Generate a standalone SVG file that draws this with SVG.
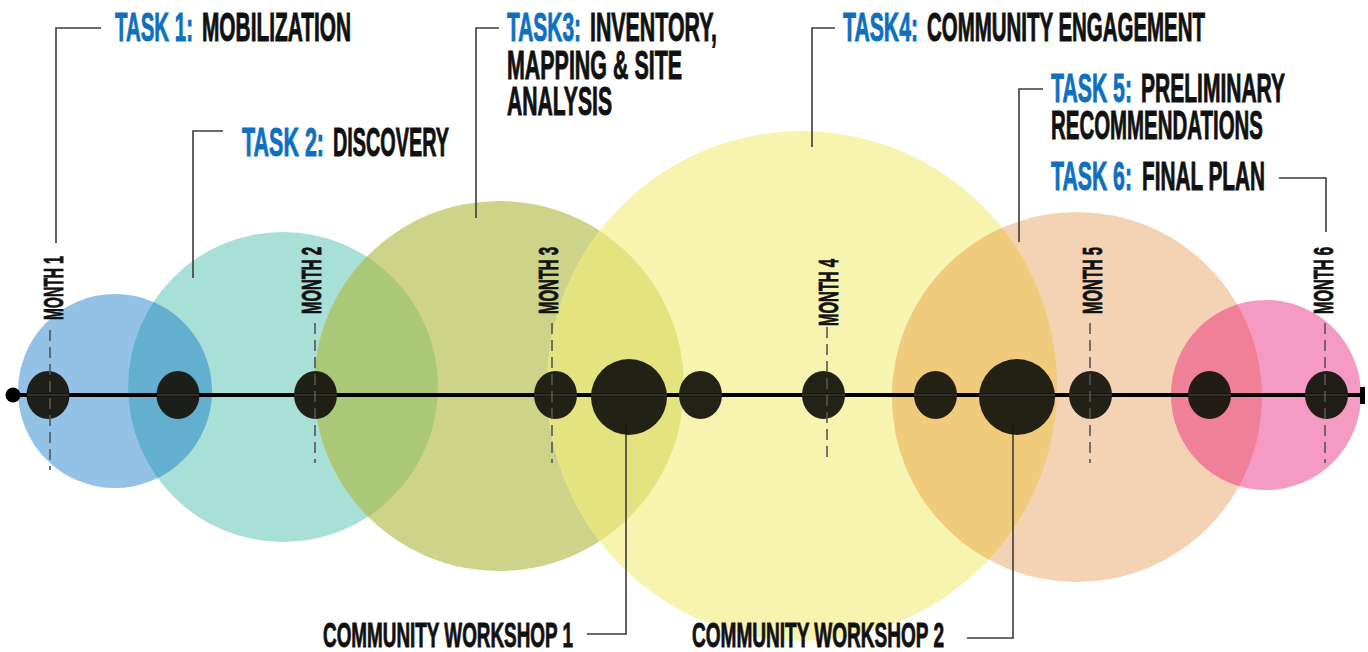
<svg xmlns="http://www.w3.org/2000/svg" width="1368" height="652" viewBox="0 0 1368 652">
  <style>
    .lbl { font-family: "Liberation Sans Narrow", "Liberation Sans", "DejaVu Sans Condensed", sans-serif; font-weight: bold; }
    .task { font-size: 41px; fill: #111; stroke: #111; stroke-width: 1; }
    .task.num { fill: #0f70c0; stroke: #0f70c0; }
    .month { font-size: 28px; fill: #111; stroke: #111; stroke-width: 0.8; }
    .ws { font-size: 35px; fill: #111; stroke: #111; stroke-width: 0.9; }
    .leader { fill: none; stroke: #3c3c3c; stroke-width: 1.6; }
    .tick { fill: none; stroke: #555; stroke-width: 1.6; stroke-dasharray: 11 6; }
    .dot { fill: #17160f; fill-opacity: 0.95; }
  </style>
  <defs>
    <clipPath id="clip-blue"><circle cx="115" cy="391" r="97"/></clipPath>
    <clipPath id="clip-teal"><circle cx="283" cy="387" r="155"/></clipPath>
    <clipPath id="clip-olive"><circle cx="499" cy="386" r="185"/></clipPath>
    <clipPath id="clip-yellow"><circle cx="802" cy="386" r="255"/></clipPath>
    <clipPath id="clip-peach"><circle cx="1077" cy="397" r="185"/></clipPath>
  </defs>

  <rect width="1368" height="652" fill="#ffffff"/>

  <!-- phase circles -->
  <g id="phase-circles">
    <circle id="circle-task1" cx="115" cy="391" r="97" fill="#93c2e6"/>
    <circle id="circle-task2" cx="283" cy="387" r="155" fill="#a8dfd6"/>
    <circle id="circle-task3" cx="499" cy="386" r="185" fill="#cdd48a"/>
    <circle id="circle-task4" cx="802" cy="386" r="255" fill="#f7f4b0"/>
    <circle id="circle-task5" cx="1077" cy="397" r="185" fill="#f4d3b4"/>
    <circle id="circle-task6" cx="1266" cy="395" r="95" fill="#f59ac2"/>
  </g>

  <!-- overlapping lenses between neighbouring phases -->
  <g id="phase-overlaps">
    <circle cx="283" cy="387" r="155" fill="#62afd0" clip-path="url(#clip-blue)"/>
    <circle cx="499" cy="386" r="185" fill="#aac877" clip-path="url(#clip-teal)"/>
    <circle cx="802" cy="386" r="255" fill="#e3e380" clip-path="url(#clip-olive)"/>
    <circle cx="1077" cy="397" r="185" fill="#efcb7b" clip-path="url(#clip-yellow)"/>
    <circle cx="1266" cy="395" r="95" fill="#f07f98" clip-path="url(#clip-peach)"/>
  </g>

  <!-- timeline and leader lines -->
  <g id="connectors">
    <line x1="13" y1="395" x2="1362" y2="395" stroke="#000" stroke-width="4"/>
    <circle cx="13" cy="395" r="7.5" fill="#000"/>
    <rect x="1360" y="387" width="5" height="17" fill="#000"/>

    <path class="leader" d="M101,28 H56 V243"/>
    <path class="leader" d="M223,131 H193 V278"/>
    <path class="leader" d="M499,28 H476 V218"/>
    <path class="leader" d="M835,28 H812 V147"/>
    <path class="leader" d="M1043,89 H1019 V242"/>
    <path class="leader" d="M1279,178 H1326 V232"/>
    <path class="leader" d="M587,634 H626 V424"/>
    <path class="leader" d="M967,638 H1013 V424"/>
  </g>

  <!-- milestone dots -->
  <g id="milestones">
    <ellipse class="dot" cx="48" cy="395" rx="21.5" ry="24"/>
    <ellipse class="dot" cx="178" cy="395" rx="21.5" ry="24"/>
    <ellipse class="dot" cx="315.5" cy="395" rx="21.5" ry="24"/>
    <ellipse class="dot" cx="555.5" cy="395" rx="21.5" ry="24"/>
    <circle class="dot" cx="629" cy="397" r="38"/>
    <ellipse class="dot" cx="700.5" cy="395" rx="21.5" ry="24"/>
    <ellipse class="dot" cx="823.5" cy="395" rx="21.5" ry="24"/>
    <ellipse class="dot" cx="935.5" cy="395" rx="21.5" ry="24"/>
    <circle class="dot" cx="1017" cy="397" r="38"/>
    <ellipse class="dot" cx="1090.5" cy="395" rx="21.5" ry="24"/>
    <ellipse class="dot" cx="1209.5" cy="395" rx="21.5" ry="24"/>
    <ellipse class="dot" cx="1326.5" cy="395" rx="21.5" ry="24"/>
    <path d="M27,395 H69 M157,395 H199 M294,395 H337 M534,395 H577 M591,395 H667 M679,395 H722 M802,395 H845 M914,395 H957 M979,395 H1055 M1069,395 H1112 M1188,395 H1231 M1305,395 H1348" stroke="#4a4a4a" stroke-width="1" fill="none"/>
  </g>

  <!-- month ticks -->
  <g id="month-ticks">
    <line class="tick" x1="50" y1="330" x2="50" y2="470"/>
    <line class="tick" x1="315" y1="323" x2="315" y2="463"/>
    <line class="tick" x1="552" y1="323" x2="552" y2="463"/>
    <line class="tick" x1="827" y1="327" x2="827" y2="463"/>
    <line class="tick" x1="1090" y1="323" x2="1090" y2="463"/>
    <line class="tick" x1="1325" y1="323" x2="1325" y2="463"/>
  </g>

  <g id="month-labels" class="lbl">
    <text class="month" transform="translate(63,320) rotate(-90) scale(0.62,1)" textLength="103.2" lengthAdjust="spacingAndGlyphs">MONTH 1</text>
    <text class="month" transform="translate(321,314) rotate(-90) scale(0.62,1)" textLength="108.1" lengthAdjust="spacingAndGlyphs">MONTH 2</text>
    <text class="month" transform="translate(558,314) rotate(-90) scale(0.62,1)" textLength="108.1" lengthAdjust="spacingAndGlyphs">MONTH 3</text>
    <text class="month" transform="translate(838,326) rotate(-90) scale(0.62,1)" textLength="108.1" lengthAdjust="spacingAndGlyphs">MONTH 4</text>
    <text class="month" transform="translate(1102,314) rotate(-90) scale(0.62,1)" textLength="108.1" lengthAdjust="spacingAndGlyphs">MONTH 5</text>
    <text class="month" transform="translate(1333,314) rotate(-90) scale(0.62,1)" textLength="108.1" lengthAdjust="spacingAndGlyphs">MONTH 6</text>
  </g>

  <!-- task labels (condensed by a horizontal scale of 0.6) -->
  <g id="task1" class="lbl">
    <text class="task num" transform="translate(115,41) scale(0.6,1)" textLength="130" lengthAdjust="spacingAndGlyphs">TASK 1:</text>
    <text class="task" transform="translate(202,41) scale(0.6,1)" textLength="248.3" lengthAdjust="spacingAndGlyphs">MOBILIZATION</text>
  </g>
  <g id="task2" class="lbl">
    <text class="task num" transform="translate(242,156) scale(0.6,1)" textLength="136.7" lengthAdjust="spacingAndGlyphs">TASK 2:</text>
    <text class="task" transform="translate(333,156) scale(0.6,1)" textLength="193.3" lengthAdjust="spacingAndGlyphs">DISCOVERY</text>
  </g>
  <g id="task3" class="lbl">
    <text class="task num" transform="translate(507,41) scale(0.6,1)" textLength="123.3" lengthAdjust="spacingAndGlyphs">TASK3:</text>
    <text class="task" transform="translate(590,41) scale(0.6,1)" textLength="211.7" lengthAdjust="spacingAndGlyphs">INVENTORY,</text>
    <text class="task" transform="translate(507,79) scale(0.6,1)" textLength="291.7" lengthAdjust="spacingAndGlyphs">MAPPING &amp; SITE</text>
    <text class="task" transform="translate(507,115) scale(0.6,1)" textLength="175" lengthAdjust="spacingAndGlyphs">ANALYSIS</text>
  </g>
  <g id="task4" class="lbl">
    <text class="task num" transform="translate(843,41) scale(0.6,1)" textLength="125" lengthAdjust="spacingAndGlyphs">TASK4:</text>
    <text class="task" transform="translate(927,41) scale(0.6,1)" textLength="463.3" lengthAdjust="spacingAndGlyphs">COMMUNITY ENGAGEMENT</text>
  </g>
  <g id="task5" class="lbl">
    <text class="task num" transform="translate(1051,102) scale(0.6,1)" textLength="135" lengthAdjust="spacingAndGlyphs">TASK 5:</text>
    <text class="task" transform="translate(1141,102) scale(0.6,1)" textLength="240" lengthAdjust="spacingAndGlyphs">PRELIMINARY</text>
    <text class="task" transform="translate(1051,139) scale(0.6,1)" textLength="353.3" lengthAdjust="spacingAndGlyphs">RECOMMENDATIONS</text>
  </g>
  <g id="task6" class="lbl">
    <text class="task num" transform="translate(1051,190) scale(0.6,1)" textLength="135" lengthAdjust="spacingAndGlyphs">TASK 6:</text>
    <text class="task" transform="translate(1142,190) scale(0.6,1)" textLength="205" lengthAdjust="spacingAndGlyphs">FINAL PLAN</text>
  </g>

  <!-- workshop labels -->
  <g id="workshop1" class="lbl">
    <text class="ws" transform="translate(323,647) scale(0.65,1)" textLength="384.6" lengthAdjust="spacingAndGlyphs">COMMUNITY WORKSHOP 1</text>
  </g>
  <g id="workshop2" class="lbl">
    <text class="ws" transform="translate(692,647) scale(0.65,1)" textLength="387.7" lengthAdjust="spacingAndGlyphs">COMMUNITY WORKSHOP 2</text>
  </g>
</svg>
